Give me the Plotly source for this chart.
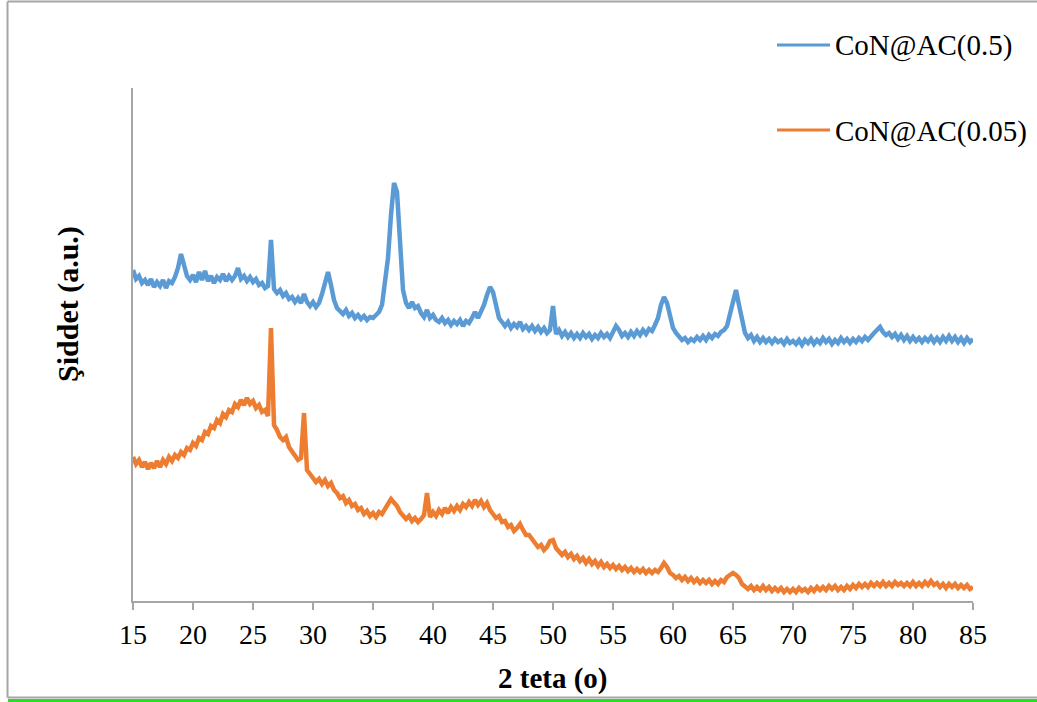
import numpy as np
import plotly.graph_objects as go

# 2-theta sampling (degrees), 0.25 deg step from 15 to 85
two_theta = np.round(np.arange(15.0, 85.0001, 0.25), 2)

# CoN@AC(0.5) intensity (a.u.), four samples per degree
con_ac_05 = [
    331, 322, 325, 318,  # 15
    321, 316, 322, 314,  # 16
    319, 315, 321, 313,  # 17
    320, 318, 324, 333,  # 18
    347, 335, 325, 321,  # 19
    326, 319, 329, 321,  # 20
    330, 320, 325, 318,  # 21
    324, 321, 327, 320,  # 22
    325, 321, 325, 333,  # 23
    322, 325, 320, 324,  # 24
    319, 322, 316, 318,  # 25
    313, 315, 361, 312,  # 26
    308, 311, 305, 308,  # 27
    302, 304, 299, 303,  # 28
    298, 307, 299, 295,  # 29
    299, 294, 298, 307,  # 30
    319, 329, 316, 301,  # 31
    293, 290, 287, 291,  # 32
    285, 288, 283, 286,  # 33
    282, 285, 281, 284,  # 34
    283, 286, 289, 296,  # 35
    321, 343, 386, 418,  # 36
    409, 366, 311, 298,  # 37
    293, 299, 293, 295,  # 38
    288, 284, 291, 283,  # 39
    286, 281, 279, 283,  # 40
    278, 281, 276, 280,  # 41
    277, 281, 275, 280,  # 42
    278, 283, 289, 283,  # 43
    289, 296, 306, 314,  # 44
    309, 296, 283, 279,  # 45
    275, 279, 273, 277,  # 46
    274, 279, 272, 275,  # 47
    271, 275, 270, 274,  # 48
    269, 273, 268, 271,  # 49
    295, 267, 271, 265,  # 50
    269, 264, 268, 263,  # 51
    267, 263, 268, 264,  # 52
    267, 262, 266, 263,  # 53
    268, 264, 267, 263,  # 54
    268, 275, 271, 265,  # 55
    268, 264, 269, 265,  # 56
    270, 266, 271, 267,  # 57
    272, 270, 276, 283,  # 58
    296, 304, 298, 283,  # 59
    273, 268, 264, 261,  # 60
    263, 259, 262, 260,  # 61
    264, 261, 265, 261,  # 62
    266, 263, 267, 265,  # 63
    269, 271, 275, 286,  # 64
    301, 311, 296, 279,  # 65
    268, 263, 266, 260,  # 66
    264, 259, 263, 259,  # 67
    262, 258, 262, 259,  # 68
    261, 257, 262, 258,  # 69
    260, 257, 261, 256,  # 70
    261, 258, 262, 257,  # 71
    261, 258, 263, 259,  # 72
    262, 257, 261, 258,  # 73
    263, 259, 262, 258,  # 74
    262, 259, 263, 260,  # 75
    264, 261, 265, 268,  # 76
    271, 274, 269, 266,  # 77
    268, 264, 267, 262,  # 78
    266, 261, 265, 260,  # 79
    264, 260, 263, 259,  # 80
    263, 260, 264, 259,  # 81
    263, 259, 264, 260,  # 82
    265, 260, 264, 259,  # 83
    263, 258, 263, 259,  # 84
    262,                 # 85
]

# CoN@AC(0.05) intensity (a.u.)
con_ac_005 = [
    144, 137, 141, 134,  # 15
    139, 132, 138, 133,  # 16
    140, 134, 141, 137,  # 17
    144, 140, 146, 143,  # 18
    149, 146, 153, 151,  # 19
    158, 155, 163, 161,  # 20
    169, 167, 175, 173,  # 21
    181, 178, 187, 184,  # 22
    191, 189, 197, 194,  # 23
    201, 196, 203, 197,  # 24
    200, 193, 196, 189,  # 25
    191, 185, 273, 176,  # 26
    171, 164, 161, 164,  # 27
    154, 149, 145, 141,  # 28
    143, 188, 131, 126,  # 29
    123, 119, 122, 117,  # 30
    121, 115, 118, 111,  # 31
    108, 103, 105, 98,   # 32
    101, 95, 97, 91,     # 33
    93, 87, 90, 85,      # 34
    88, 84, 89, 87,      # 35
    93, 97, 102, 99,     # 36
    95, 89, 86, 82,      # 37
    85, 80, 83, 79,      # 38
    82, 86, 108, 84,     # 39
    89, 85, 91, 87,      # 40
    93, 88, 94, 90,      # 41
    95, 91, 97, 94,      # 42
    99, 95, 101, 96,     # 43
    100, 94, 98, 91,     # 44
    87, 83, 85, 79,      # 45
    80, 74, 76, 70,      # 46
    73, 77, 71, 66,      # 47
    66, 61, 58, 54,      # 48
    56, 51, 54, 60,      # 49
    61, 53, 49, 46,      # 50
    49, 44, 47, 42,      # 51
    45, 40, 43, 38,      # 52
    42, 37, 40, 35,      # 53
    39, 34, 37, 33,      # 54
    36, 32, 35, 31,      # 55
    34, 30, 33, 29,      # 56
    32, 29, 32, 28,      # 57
    31, 28, 31, 29,      # 58
    33, 38, 34, 28,      # 59
    26, 23, 25, 21,      # 60
    24, 20, 23, 19,      # 61
    22, 18, 21, 18,      # 62
    21, 17, 20, 17,      # 63
    21, 19, 24, 26,      # 64
    28, 26, 23, 17,      # 65
    15, 12, 15, 11,      # 66
    14, 11, 15, 11,      # 67
    14, 10, 13, 10,      # 68
    13, 9, 12, 9,        # 69
    12, 9, 13, 10,       # 70
    12, 9, 13, 10,       # 71
    14, 11, 14, 11,      # 72
    15, 12, 15, 11,      # 73
    14, 11, 15, 12,      # 74
    16, 13, 17, 14,      # 75
    17, 14, 18, 15,      # 76
    18, 15, 19, 15,      # 77
    18, 15, 19, 16,      # 78
    18, 15, 18, 15,      # 79
    19, 15, 18, 15,      # 80
    19, 16, 20, 16,      # 81
    18, 14, 17, 13,      # 82
    17, 14, 17, 13,      # 83
    16, 13, 16, 12,      # 84
    14,                  # 85
]

x_ticks = [15, 20, 25, 30, 35, 40, 45, 50, 55, 60, 65, 70, 75, 80, 85]
series_names = ["CoN@AC(0.5)", "CoN@AC(0.05)"]
series_colors = ["#5B9BD5", "#ED7D31"]

assert len(con_ac_05) == len(two_theta) == len(con_ac_005)

FONT = "Liberation Serif, Times New Roman, serif"
W, H = 1037, 702
ML, MR, MT, MB = 133, 64, 88, 101
PW, PH = W - ML - MR, H - MT - MB


def px(xp):
    return (xp - ML) / PW


def py(yp):
    return (H - MB - yp) / PH


fig = go.Figure()
for name, ys, col in zip(series_names, [con_ac_05, con_ac_005], series_colors):
    fig.add_trace(go.Scatter(
        x=two_theta, y=ys, mode="lines", name=name,
        line=dict(color=col, width=4.5), showlegend=False,
    ))

frame = dict(color="#A6A6A6", width=2)
shapes = [
    # chart-area frame (top, left, bottom edges)
    dict(type="line", xref="paper", yref="paper", x0=px(7.5), x1=px(1040),
         y0=py(1.5), y1=py(1.5), line=frame, layer="below"),
    dict(type="line", xref="paper", yref="paper", x0=px(7.5), x1=px(7.5),
         y0=py(1.5), y1=py(697.5), line=frame, layer="below"),
    dict(type="line", xref="paper", yref="paper", x0=px(7.5), x1=px(1040),
         y0=py(697.5), y1=py(697.5), line=frame, layer="below"),
    dict(type="line", xref="paper", yref="paper",
         x0=px(8), x1=px(1040), y0=py(700.5), y1=py(700.5),
         line=dict(color="#22E022", width=3)),
]
annotations = []
legend_rows = [45, 130]
for name, col, yrow in zip(series_names, series_colors, legend_rows):
    shapes.append(dict(type="line", xref="paper", yref="paper",
                       x0=px(777), x1=px(830), y0=py(yrow), y1=py(yrow),
                       line=dict(color=col, width=3)))
    annotations.append(dict(xref="paper", yref="paper", x=px(833), y=py(yrow + 1),
                            text=name, showarrow=False, xanchor="left", yanchor="middle",
                            font=dict(family=FONT, size=29, color="black")))

annotations.append(dict(xref="paper", yref="paper", x=0.5, y=py(678),
                        text="<b>2 teta (o)</b>", showarrow=False,
                        xanchor="center", yanchor="middle",
                        font=dict(family=FONT, size=29, color="black")))
annotations.append(dict(xref="paper", yref="paper", x=px(68), y=py(304),
                        text="<b>Şiddet (a.u.)</b>", showarrow=False, textangle=-90,
                        xanchor="center", yanchor="middle",
                        font=dict(family=FONT, size=30, color="black")))

fig.update_layout(
    width=W, height=H,
    margin=dict(l=ML, r=MR, t=MT, b=MB, pad=0),
    paper_bgcolor="white", plot_bgcolor="white",
    shapes=shapes, annotations=annotations,
    font=dict(family=FONT, size=28, color="black"),
    xaxis=dict(range=[15, 85], tickvals=x_ticks, ticktext=[str(t) for t in x_ticks],
               showgrid=False, zeroline=False, showline=True, linecolor="#A6A6A6",
               linewidth=2, ticks="outside", ticklen=7, tickwidth=2, tickcolor="#A6A6A6",
               tickfont=dict(family=FONT, size=28, color="black")),
    yaxis=dict(range=[0, 513], showgrid=False, zeroline=False, showline=True,
               linecolor="#A6A6A6", linewidth=2, showticklabels=False, ticks=""),
)

fig.write_html("out.html")
